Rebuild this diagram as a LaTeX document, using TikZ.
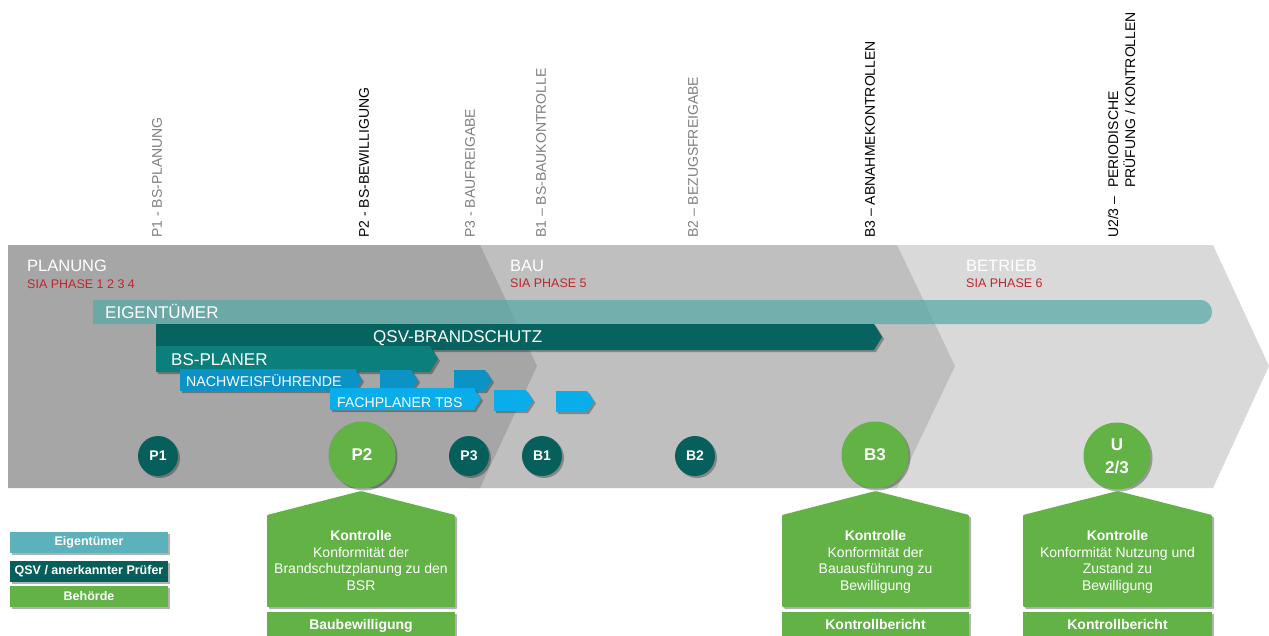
\documentclass[tikz,border=0pt]{standalone}
\usepackage{fontspec}
\setmainfont{Liberation Sans}
\usetikzlibrary{shadows}

\definecolor{planc}{HTML}{A6A6A6}
\definecolor{bauc}{HTML}{BFBFBF}
\definecolor{betriebc}{HTML}{D9D9D9}
\definecolor{eigc}{HTML}{56AAA6}
\definecolor{qsvc}{HTML}{07635F}
\definecolor{bsplc}{HTML}{0B7F7B}
\definecolor{nachc}{HTML}{0C93C6}
\definecolor{fachc}{HTML}{08ADEA}
\definecolor{darkc}{HTML}{075F5B}
\definecolor{greenc}{HTML}{62B246}
\definecolor{legeig}{HTML}{5BB2BA}
\definecolor{siared}{HTML}{C0262C}
\definecolor{graytxt}{HTML}{7F7F7F}

\newcommand\fsz[2]{\fontsize{#1}{#2}\selectfont}
% bar with a pointed right end: style, x1, y1, x2, y2, tip depth
\newcommand\arrowbar[6]{%
  \fill[#1] (#2,#3) -- ({#4-#6},#3) -- (#4,{(#3+#5)/2}) -- ({#4-#6},#5) -- (#2,#5) -- cycle;}

\tikzset{
  shd/.style={drop shadow={shadow xshift=2pt, shadow yshift=-2pt, opacity=0.3, fill=black}},
  toplbl/.style={rotate=90, anchor=west, inner sep=0pt, font=\fsz{14}{17}},
  phasetitle/.style={anchor=base west, inner sep=0pt, text=white, font=\fsz{16.5}{20}},
  phasesia/.style={anchor=base west, inner sep=0pt, text=siared, font=\fsz{12.5}{15}},
  bartxt/.style={anchor=base west, inner sep=0pt, text=white},
  smallcirc/.style={circle, fill=darkc, minimum size=40pt, inner sep=0pt, shd, text=white, font=\bfseries\fsz{14}{17}},
  bigcirc/.style={circle, fill=greenc, minimum size=67pt, inner sep=0pt, shd, text=white, font=\bfseries\fsz{17}{23}},
  legbox/.style={minimum width=158pt, minimum height=21pt, inner sep=0pt, shd, text=white, font=\bfseries\fsz{12.5}{15}},
  housetxt/.style={anchor=north, inner sep=0pt, align=center, text=white, font=\fsz{14}{16.7}},
  reporttxt/.style={anchor=base, inner sep=0pt, text=white, font=\bfseries\fsz{14}{17}},
}

\begin{document}
\begin{tikzpicture}[x=1pt, y=-1pt]
\useasboundingbox (0,0) rectangle (1269,635);
\fill[white] (0,0) rectangle (1269,635);

% phase chevrons, drawn back to front
\fill[betriebc] (880,245) -- (1213,245) -- (1269,366) -- (1213,488) -- (880,488) -- cycle;
\fill[bauc] (470,245) -- (897,245) -- (955,366) -- (897,488) -- (470,488) -- cycle;
\fill[planc] (8,245) -- (480,245) -- (537,366) -- (480,488) -- (8,488) -- cycle;

% phase titles
\node[phasetitle] (tplan) at (27,271) {PLANUNG};
\node[phasesia] (splan) at (27,288) {SIA PHASE 1 2 3 4};
\node[phasetitle] (tbau) at (510,271) {BAU};
\node[phasesia] (sbau) at (510,287) {SIA PHASE 5};
\node[phasetitle] (tbet) at (966,271) {BETRIEB};
\node[phasesia] (sbet) at (966,287) {SIA PHASE 6};

% milestone labels above the band
\node[toplbl, text=graytxt] (lp1) at (157,238) {P1 - BS-PLANUNG};
\node[toplbl, text=black] (lp2) at (364,238) {P2 - BS-BEWILLIGUNG};
\node[toplbl, text=graytxt] (lp3) at (470,238) {P3 - BAUFREIGABE};
\node[toplbl, text=graytxt] (lb1) at (541,238) {B1 – BS-BAUKONTROLLE};
\node[toplbl, text=graytxt] (lb2) at (693,238) {B2 – BEZUGSFREIGABE};
\node[toplbl, text=black] (lb3) at (870,238) {B3 – ABNAHMEKONTROLLEN};
\node[toplbl, text=black, align=left] (lu) at (1121.5,238)
  {\makebox[50pt][l]{U2/3 –}PERIODISCHE\\\hspace*{50pt}PRÜFUNG / KONTROLLEN};

% role bars
\fill[eigc, fill opacity=0.72] (93,300) -- (1200,300)
  .. controls (1208,300) and (1212,306) .. (1212,312)
  .. controls (1212,318) and (1208,324) .. (1200,324) -- (93,324) -- cycle;
\node[bartxt, font=\fsz{17}{20}] (teig) at (105,318) {EIGENTÜMER};

\arrowbar{qsvc, shd}{156}{324}{882}{350}{8}
\node[bartxt, font=\fsz{17}{20}] (tqsv) at (373,342) {QSV-BRANDSCHUTZ};

\arrowbar{bsplc, shd}{156}{346}{438}{372}{8}
\node[bartxt, font=\fsz{17}{20}] (tbspl) at (171,365) {BS-PLANER};

\arrowbar{nachc, shd}{180}{369}{362}{391}{7}
\arrowbar{nachc, shd}{380}{370}{418}{391}{7}
\arrowbar{nachc, shd}{454}{370}{492}{391}{7}
\node[bartxt, font=\fsz{14.2}{17}] (tnach) at (186,386) {NACHWEISFÜHRENDE};

\arrowbar{fachc, shd}{330}{388}{481}{410}{7}
\arrowbar{fachc, shd}{494}{390}{533}{411}{7}
\arrowbar{fachc, shd}{556}{391}{594}{412}{7}
\node[bartxt, font=\fsz{14.1}{17}] (tfach) at (337,407) {FACHPLANER TBS};

% milestones
\node[smallcirc] (p1) at (158,456) {P1};
\node[smallcirc] (p3) at (469,456) {P3};
\node[smallcirc] (b1) at (542,456) {B1};
\node[smallcirc] (b2) at (695,456) {B2};

% control boxes below the band
\fill[greenc, shd, rounded corners=1pt] (267,515) -- (361,491) -- (455,515) -- (455,607) -- (267,607) -- cycle;
\fill[greenc, shd] (267,612) rectangle (455,640);
\node[housetxt] (hp2) at (361,530)
  {\textbf{Kontrolle}\\Konformität der\\Brandschutzplanung zu den\\BSR};
\node[reporttxt] (rp2) at (361,629) {Baubewilligung};

\fill[greenc, shd, rounded corners=1pt] (782,515) -- (875.5,491) -- (969,515) -- (969,607) -- (782,607) -- cycle;
\fill[greenc, shd] (782,612) rectangle (969,640);
\node[housetxt] (hb3) at (875.5,530)
  {\textbf{Kontrolle}\\Konformität der\\Bauausführung zu\\Bewilligung};
\node[reporttxt] (rb3) at (875.5,629) {Kontrollbericht};

\fill[greenc, shd, rounded corners=1pt] (1023,515) -- (1117.5,491) -- (1212,515) -- (1212,607) -- (1023,607) -- cycle;
\fill[greenc, shd] (1023,612) rectangle (1212,640);
\node[housetxt] (hu) at (1117.5,530)
  {\textbf{Kontrolle}\\Konformität Nutzung und\\Zustand zu\\Bewilligung};
\node[reporttxt] (ru) at (1117.5,629) {Kontrollbericht};

% authority milestones on top of the box roofs
\node[bigcirc] (p2) at (362,455) {P2};
\node[bigcirc] (b3) at (875,455) {B3};
\node[bigcirc, align=center] (u) at (1117,456) {U\\2/3};

% legend
\node[legbox, fill=legeig] (leg1) at (89,542.5) {Eigentümer};
\node[legbox, fill=darkc] (leg2) at (89,571) {QSV / anerkannter Prüfer};
\node[legbox, fill=greenc] (leg3) at (89,596.5) {Behörde};
\end{tikzpicture}
\end{document}
